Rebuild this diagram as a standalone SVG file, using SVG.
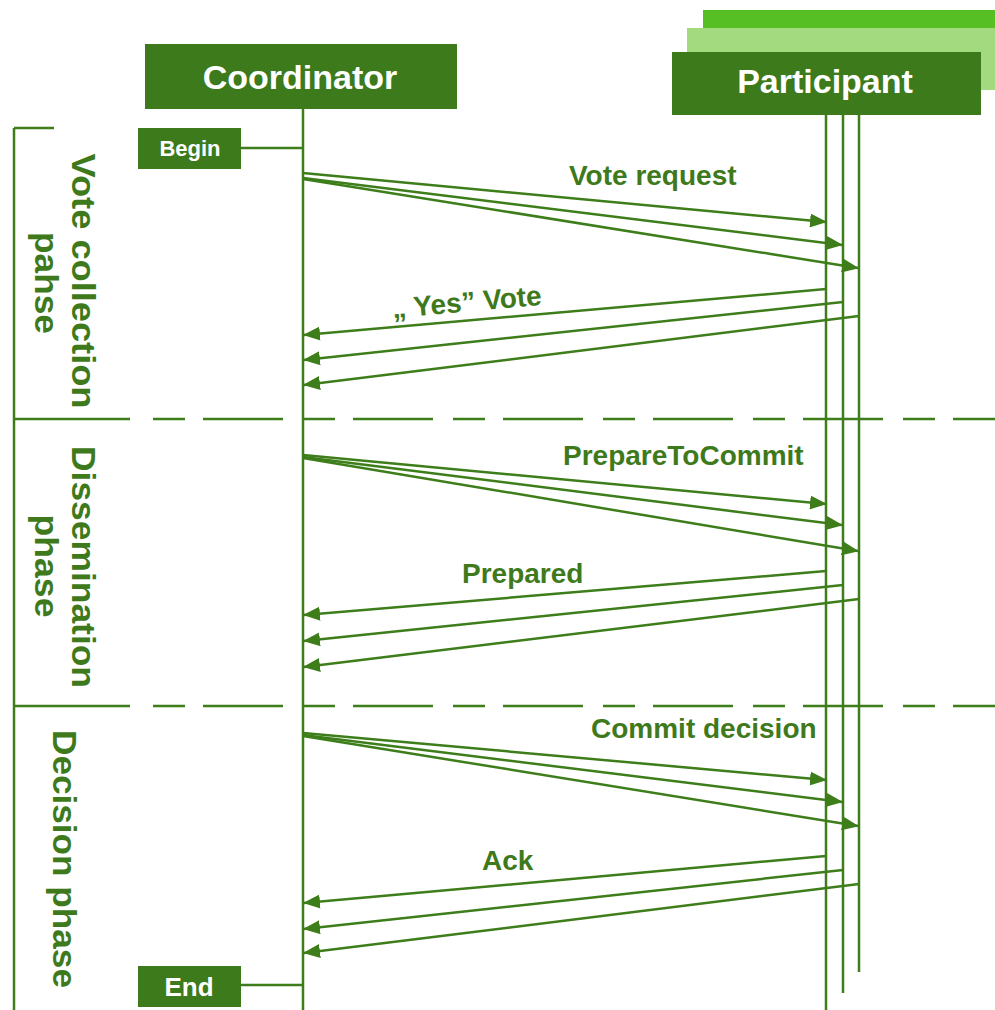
<svg xmlns="http://www.w3.org/2000/svg" width="995" height="1010" viewBox="0 0 995 1010">
  <style>
    .box { fill: #3c7a1b; }
    .hdr { fill: #ffffff; font-family: "Liberation Sans", Arial, sans-serif; font-weight: bold; font-size: 34px; text-anchor: middle; }
    .tag { fill: #ffffff; font-family: "Liberation Sans", Arial, sans-serif; font-weight: bold; text-anchor: middle; }
    .ln { stroke: #3d7d1a; stroke-width: 2.5; fill: none; }
    .msg { stroke: #3d7d1a; stroke-width: 2.5; fill: none; marker-end: url(#arrow); }
    .sep { stroke: #3d7d1a; stroke-width: 2.5; fill: none; stroke-dasharray: 32 18 80 20; }
    .lbl { fill: #3e7a1c; font-family: "Liberation Sans", Arial, sans-serif; font-weight: bold; font-size: 28px; }
    .phase { fill: #3e7a1c; font-family: "Liberation Sans", Arial, sans-serif; font-weight: bold; font-size: 33px; text-anchor: middle; }
  </style>
  <defs>
    <marker id="arrow" markerUnits="userSpaceOnUse" markerWidth="17" markerHeight="14" refX="16" refY="7" orient="auto">
      <path d="M0,0 L17,7 L0,14 z" fill="#3d7d1a"/>
    </marker>
  </defs>
  <rect width="995" height="1010" fill="#ffffff"/>

  <!-- phase bracket and separators -->
  <g id="phases">
    <path class="ln" d="M14,128 V1010 M14,128 H54"/>
    <path class="ln" d="M14,419 H130 M14,706 H130"/>
    <path class="sep" d="M153,419 H995 M153,706 H995"/>
    <text class="phase" transform="translate(72,281) rotate(90)" textLength="255" lengthAdjust="spacingAndGlyphs">Vote collection</text>
    <text class="phase" transform="translate(35,283) rotate(90)" textLength="102" lengthAdjust="spacingAndGlyphs">pahse</text>
    <text class="phase" transform="translate(72,567) rotate(90)" textLength="242" lengthAdjust="spacingAndGlyphs">Dissemination</text>
    <text class="phase" transform="translate(35,566) rotate(90)" textLength="103" lengthAdjust="spacingAndGlyphs">phase</text>
    <text class="phase" transform="translate(53,859) rotate(90)" textLength="258" lengthAdjust="spacingAndGlyphs">Decision phase</text>
  </g>

  <!-- coordinator -->
  <g id="coordinator">
    <rect class="box" x="145" y="44" width="312" height="65"/>
    <text class="hdr" x="300" y="89">Coordinator</text>
    <line class="ln" x1="303" y1="109" x2="303" y2="1010"/>
  </g>

  <!-- participants (stacked) -->
  <g id="participant">
    <rect x="703" y="10" width="292" height="60" fill="#55bf24"/>
    <rect x="687" y="28" width="308" height="62" fill="#a3da7f"/>
    <rect class="box" x="672" y="52" width="309" height="63"/>
    <text class="hdr" x="825" y="93">Participant</text>
    <line class="ln" x1="826" y1="115" x2="826" y2="1010"/>
    <line class="ln" x1="843" y1="115" x2="843" y2="993"/>
    <line class="ln" x1="859" y1="115" x2="859" y2="972"/>
  </g>

  <g id="begin">
    <rect class="box" x="138" y="128" width="103" height="41"/>
    <text class="tag" x="190" y="156" font-size="22">Begin</text>
    <line class="ln" x1="241" y1="148" x2="303" y2="148"/>
  </g>

  <g id="end">
    <rect class="box" x="138" y="966" width="103" height="41"/>
    <text class="tag" x="189" y="996" font-size="26">End</text>
    <line class="ln" x1="241" y1="985" x2="303" y2="985"/>
  </g>

  <!-- messages -->
  <g id="connectors">
    <line class="msg" x1="303" y1="173" x2="826" y2="222"/>
    <line class="msg" x1="303" y1="178" x2="842" y2="245"/>
    <line class="msg" x1="303" y1="179" x2="858" y2="268"/>
    <line class="msg" x1="826" y1="289" x2="304" y2="335"/>
    <line class="msg" x1="843" y1="302" x2="304" y2="360"/>
    <line class="msg" x1="859" y1="316" x2="304" y2="385"/>

    <line class="msg" x1="303" y1="455" x2="826" y2="504"/>
    <line class="msg" x1="303" y1="457" x2="842" y2="525"/>
    <line class="msg" x1="303" y1="458" x2="858" y2="551"/>
    <line class="msg" x1="826" y1="571" x2="304" y2="615"/>
    <line class="msg" x1="843" y1="585" x2="304" y2="641"/>
    <line class="msg" x1="859" y1="599" x2="304" y2="667"/>

    <line class="msg" x1="303" y1="733" x2="826" y2="780"/>
    <line class="msg" x1="303" y1="735" x2="842" y2="802"/>
    <line class="msg" x1="303" y1="736" x2="858" y2="826"/>
    <line class="msg" x1="826" y1="856" x2="304" y2="903"/>
    <line class="msg" x1="843" y1="870" x2="304" y2="929"/>
    <line class="msg" x1="859" y1="884" x2="304" y2="953"/>
  </g>

  <!-- message labels -->
  <g id="labels">
    <text class="lbl" x="569" y="185">Vote request</text>
    <text class="lbl" transform="translate(393,318) rotate(-5)">„ Yes” Vote</text>
    <text class="lbl" x="563" y="465">PrepareToCommit</text>
    <text class="lbl" x="462" y="583">Prepared</text>
    <text class="lbl" x="591" y="738">Commit decision</text>
    <text class="lbl" x="482" y="870">Ack</text>
  </g>
</svg>
